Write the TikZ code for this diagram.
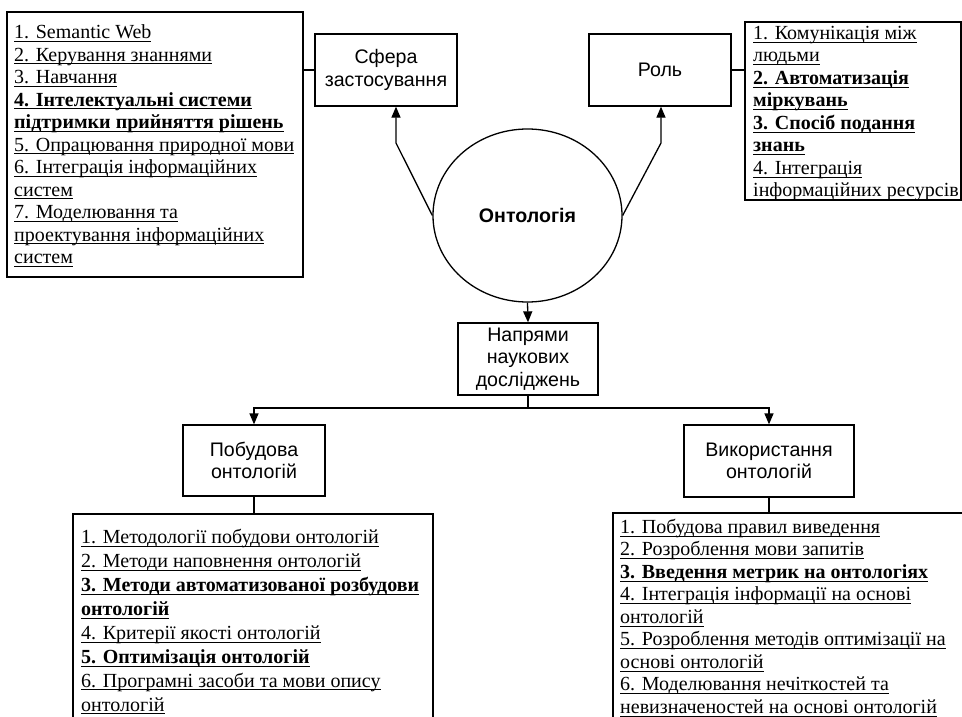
\documentclass[tikz,border=0pt]{standalone}
\usepackage{fontspec}
\setmainfont{Liberation Serif}
\setsansfont{Liberation Sans}
\usetikzlibrary{arrows.meta,shapes.geometric,calc}

\newcommand{\ulline}[1]{\setbox0=\hbox{#1}\rlap{\rule[-3.2pt]{\wd0}{0.9pt}}\box0}

\begin{document}
\begin{tikzpicture}[x=1pt,y=-1pt]
    \tikzstyle{frame}=[draw,line width=1.3pt,rectangle,inner sep=0pt]
    \tikzstyle{head}=[frame,font=\sffamily\fontsize{19.6}{22.5}\selectfont,align=center]
    \tikzstyle{items}=[anchor=north west,inner sep=0pt,align=left,font=\fontsize{20}{22.5}\selectfont]
    \tikzstyle{arr}=[line width=1.3pt,-{Triangle[length=11pt,width=9pt]}]
    \tikzstyle{conn}=[line width=1.3pt]
    \clip (0,0) rectangle (962,717);
    % upper part
    \node[frame,minimum width=296,minimum height=265] (zastlist) at (155,144.5) {};
    \node[items] (zasttext) at (14,24.5) {\ulline{1. Semantic Web}\\
        \ulline{2. Керування знаннями}\\
        \ulline{3. Навчання}\\
        \ulline{\textbf{4. Інтелектуальні системи}}\\
        \ulline{\textbf{підтримки прийняття рішень}}\\
        \ulline{5. Опрацювання природної мови}\\
        \ulline{6. Інтеграція інформаційних}\\
        \ulline{систем}\\
        \ulline{7. Моделювання та}\\
        \ulline{проектування інформаційних}\\
        \ulline{систем}};
    \node[head,minimum width=142,minimum height=72] (sfera) at (386,70) {Сфера\\застосування};
    \node[head,minimum width=142,minimum height=72] (rol) at (660,70) {Роль};
    \node[frame,minimum width=216,minimum height=178] (rollist) at (853,111) {};
    \node[items] (roltext) at (753,25.8) {\ulline{1. Комунікація між}\\
        \ulline{людьми}\\
        \ulline{\textbf{2. Автоматизація}}\\
        \ulline{\textbf{міркувань}}\\
        \ulline{\textbf{3. Спосіб подання}}\\
        \ulline{\textbf{знань}}\\
        \ulline{4. Інтеграція}\\
        \ulline{інформаційних ресурсів}};
    \node[ellipse,draw,line width=1.3pt,minimum width=189,minimum height=173,inner sep=0pt,
        font=\sffamily\bfseries\fontsize{19.6}{22}\selectfont] (onto) at (527.5,215.5) {Онтологія};
    \node[head,minimum width=140,minimum height=72] (napr) at (528,359) {Напрями\\наукових\\досліджень};
    % lower part
    \node[head,minimum width=142,minimum height=71] (pobud) at (254,460.5) {Побудова\\онтологій};
    \node[head,minimum width=170,minimum height=72] (vykor) at (769,461) {Використання\\онтологій};
    \node[frame,minimum width=360,minimum height=216] (pobudlist) at (253,622) {};
    \node[items,font=\fontsize{20}{23.9}\selectfont] (pobudtext) at (81,529.2) {\ulline{1. Методології побудови онтологій}\\
        \ulline{2. Методи наповнення онтологій}\\
        \ulline{\textbf{3. Методи автоматизованої розбудови}}\\
        \ulline{\textbf{онтологій}}\\
        \ulline{4. Критерії якості онтологій}\\
        \ulline{\textbf{5. Оптимізація онтологій}}\\
        \ulline{6. Програмні засоби та мови опису}\\
        \ulline{онтологій}};
    \node[frame,minimum width=357,minimum height=217] (vykorlist) at (791.5,621.5) {};
    \node[items] (vykortext) at (620,518.8) {\ulline{1. Побудова правил виведення}\\
        \ulline{2. Розроблення мови запитів}\\
        \ulline{\textbf{3. Введення метрик на онтологіях}}\\
        \ulline{4. Інтеграція інформації на основі}\\
        \ulline{онтологій}\\
        \ulline{5. Розроблення методів оптимізації на}\\
        \ulline{основі онтологій}\\
        \ulline{6. Моделювання нечіткостей та}\\
        \ulline{невизначеностей на основі онтологій}};
    % connectors
    \coordinate (sferabend) at (396,143);
    \coordinate (rolbend) at (661,143);
    \coordinate (split) at (528,408);
    \draw[conn] (zastlist.east |- sfera.west) -- (sfera.west);
    \draw[conn] (rol.east) -- (rol.east -| rollist.west);
    \draw[arr] (onto.west) -- (sferabend) -- (sferabend |- sfera.south);
    \draw[arr] (onto.east) -- (rolbend) -- (rolbend |- rol.south);
    \draw[arr] (onto.south) -- (napr.north);
    \draw[conn] (napr.south) -- (split);
    \draw[arr] (split) -| (pobud.north);
    \draw[arr] (split) -| (vykor.north);
    \draw[conn] (pobud.south) -- (pobud.south |- pobudlist.north);
    \draw[conn] (vykor.south) -- (vykor.south |- vykorlist.north);
\end{tikzpicture}
\end{document}
